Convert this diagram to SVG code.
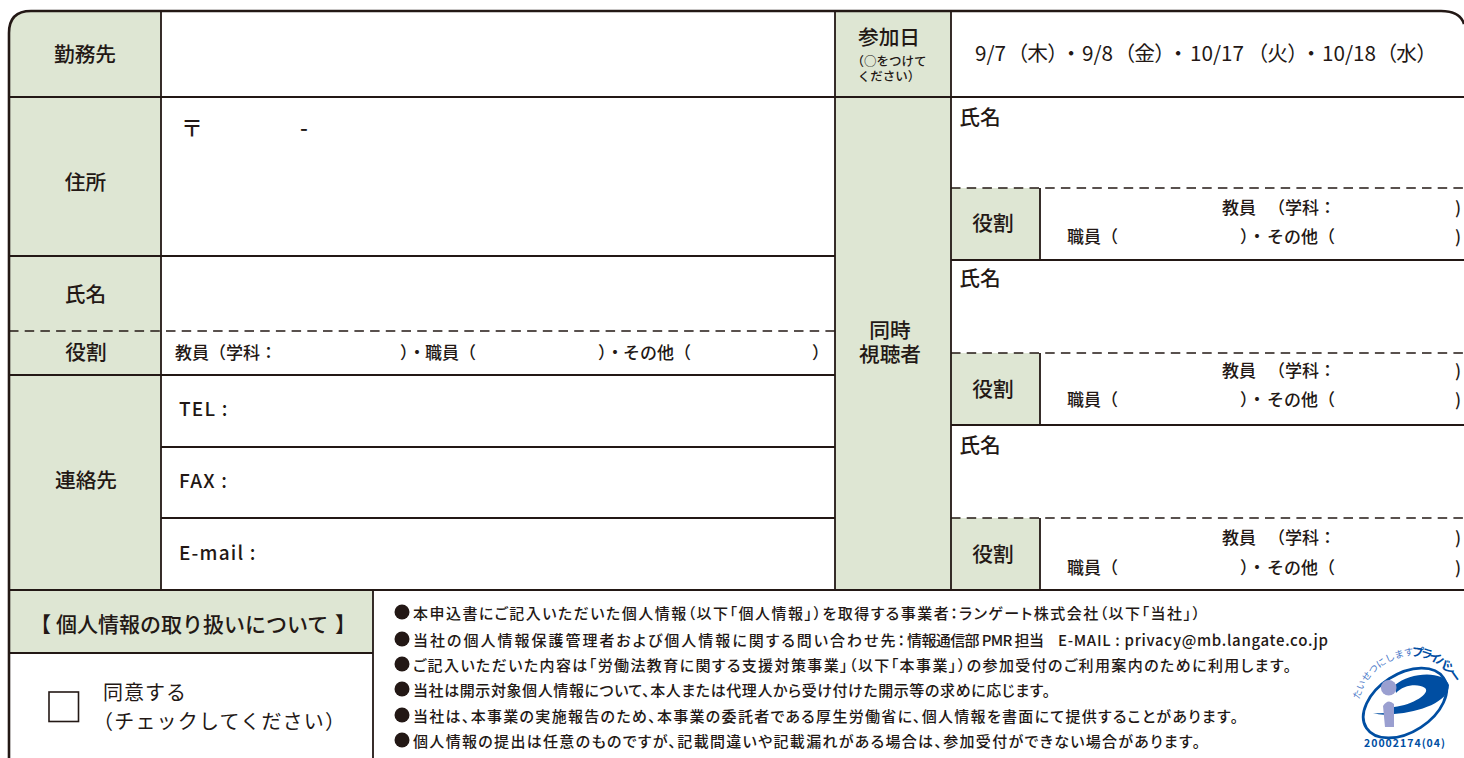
<svg xmlns="http://www.w3.org/2000/svg" width="1464" height="758" viewBox="0 0 1464 758">
<style>
text{font-family:"Noto Sans CJK JP","Noto Sans",sans-serif;fill:#231815;font-weight:500}
.ln{stroke:#231815;stroke-width:1.8;fill:none}
.ds{stroke:#231815;stroke-width:1.6;stroke-dasharray:9.5 6.2;fill:none}
.bg{fill:#dee6d3}
.h{font-size:20.7px;text-anchor:middle}
.r{font-size:17px}
.s{font-size:15px;font-feature-settings:"palt"}
.m{font-size:19px;letter-spacing:1.2px}
.b{fill:#231815}
</style>
<rect width="1464" height="758" fill="#fff"/>
<g id="fills">
<path class="bg" d="M9 590V32Q9 11 30 11H161V590Z"/>
<rect class="bg" x="835" y="11" width="116" height="579"/>
<rect class="bg" x="951" y="188" width="89" height="72"/>
<rect class="bg" x="951" y="353" width="89" height="72"/>
<rect class="bg" x="951" y="518" width="89" height="72"/>
<rect class="bg" x="9" y="590" width="364" height="63"/>
</g>
<g id="connectors">
<path class="ln" d="M161 11V590M835 11V590M951 11V590M373 590V758M1040 188V260M1040 353V425M1040 518V590"/>
<path class="ln" d="M9 97H1464M9 256H835M9 375H835M161 447H835M161 518H835M951 260H1464M951 425H1464M9 590H1464M9 653H373"/>
<path class="ds" d="M9 331H835M951 188H1464M951 353H1464M951 518H1464"/>
<path d="M9 758V33Q9 11 31 11H1441Q1460 11 1464 24" fill="none" stroke="#231815" stroke-width="2.6"/>
</g>
<g id="n-kinmu"><text class="h" x="85" y="62">勤務先</text></g>
<g id="n-jusho"><text class="h" x="85.500" y="190">住所</text><text x="181" y="136" font-size="22">〒</text><text x="300" y="136" font-size="22">-</text></g>
<g id="n-shimei"><text class="h" x="85.500" y="302">氏名</text></g>
<g id="n-yakuwari"><text class="h" x="86" y="360">役割</text>
<text class="r" y="359"><tspan x="175">教員（学科：</tspan><tspan x="400">）・</tspan><tspan x="425">職員（</tspan><tspan x="598">）・</tspan><tspan x="623">その他（</tspan><tspan x="812">）</tspan></text></g>
<g id="n-renraku"><text class="h" x="86" y="488">連絡先</text>
<text class="m" x="179" y="416">TEL :</text><text class="m" x="179" y="488">FAX :</text><text class="m" x="179" y="560">E-mail :</text></g>
<g id="n-sanka"><text class="h" x="889" y="45">参加日</text>
<text font-size="12.500" text-anchor="middle"><tspan x="889" y="66">（○をつけて</tspan><tspan x="889" y="81">ください）</tspan></text>
<text y="61" font-size="20.700" style="font-weight:400;font-feature-settings:'palt'"><tspan x="975">9/7</tspan><tspan x="1017">（木）</tspan><tspan x="1066">・</tspan><tspan x="1082">9/8</tspan><tspan x="1124">（金）</tspan><tspan x="1173">・</tspan><tspan x="1190">10/17</tspan><tspan x="1257">（火）</tspan><tspan x="1306">・</tspan><tspan x="1322">10/18</tspan><tspan x="1386">（水）</tspan></text></g>
<g id="n-doji"><text class="h"><tspan x="890" y="338">同時</tspan><tspan x="890" y="362">視聴者</tspan></text></g>
<g id="n-p1"><text class="h" x="980" y="125">氏名</text><text class="h" x="993" y="231">役割</text>
<text class="r" y="214"><tspan x="1222">教員</tspan><tspan x="1268">（学科：</tspan><tspan x="1455">)</tspan></text><text class="r" y="243"><tspan x="1067">職員（</tspan><tspan x="1240">）・</tspan><tspan x="1267">その他（</tspan><tspan x="1455">)</tspan></text></g>
<g id="n-p2"><text class="h" x="980" y="286">氏名</text><text class="h" x="993" y="397">役割</text>
<text class="r" y="377"><tspan x="1222">教員</tspan><tspan x="1268">（学科：</tspan><tspan x="1455">)</tspan></text><text class="r" y="406"><tspan x="1067">職員（</tspan><tspan x="1240">）・</tspan><tspan x="1267">その他（</tspan><tspan x="1455">)</tspan></text></g>
<g id="n-p3"><text class="h" x="980" y="453">氏名</text><text class="h" x="993" y="562">役割</text>
<text class="r" y="544"><tspan x="1222">教員</tspan><tspan x="1268">（学科：</tspan><tspan x="1455">)</tspan></text><text class="r" y="574"><tspan x="1067">職員（</tspan><tspan x="1240">）・</tspan><tspan x="1267">その他（</tspan><tspan x="1455">)</tspan></text></g>
<g id="n-kojin"><text y="632" font-size="21"><tspan x="30">【</tspan><tspan x="56">個人情報の取り扱いについて</tspan><tspan x="335">】</tspan></text></g>
<g id="n-doi"><rect x="49" y="692" width="29.500" height="29.500" fill="none" stroke="#231815" stroke-width="1.600"/>
<text x="103" y="700" font-size="20" letter-spacing="1" style="font-weight:400">同意する</text><text x="93" y="729" font-size="20" letter-spacing="1.200" style="font-weight:400">（チェックしてください）</text></g>
<g id="n-notes">
<circle class="b" cx="402" cy="612" r="7.500"/><circle class="b" cx="402" cy="639" r="7.500"/><circle class="b" cx="402" cy="664" r="7.500"/><circle class="b" cx="402" cy="689" r="7.500"/><circle class="b" cx="402" cy="715" r="7.500"/><circle class="b" cx="402" cy="740" r="7.500"/>
<text class="s" x="413" y="619" textLength="787">本申込書にご記入いただいた個人情報（以下「個人情報」）を取得する事業者：ランゲート株式会社（以下「当社」）</text>
<text class="s" x="413" y="646" textLength="492">当社の個人情報保護管理者および個人情報に関する問い合わせ先：</text>
<text class="s" x="907" y="646" textLength="137">情報通信部 PMR 担当</text>
<text class="s" x="1058" y="646" textLength="270">E-MAIL : privacy@mb.langate.co.jp</text>
<text class="s" x="413" y="671" textLength="878">ご記入いただいた内容は「労働法教育に関する支援対策事業」（以下「本事業」）の参加受付のご利用案内のために利用します。</text>
<text class="s" x="413" y="696" textLength="637">当社は開示対象個人情報について、本人または代理人から受け付けた開示等の求めに応じます。</text>
<text class="s" x="413" y="722" textLength="825">当社は、本事業の実施報告のため、本事業の委託者である厚生労働省に、個人情報を書面にて提供することがあります。</text>
<text class="s" x="413" y="747" textLength="787">個人情報の提出は任意のものですが、記載間違いや記載漏れがある場合は、参加受付ができない場合があります。</text>
</g>
<g id="n-logo">
<defs><path id="arc1" d="M1359 700Q1370 662 1411 655"/><path id="arc2" d="M1411 656Q1437 656 1453 681"/></defs>
<ellipse cx="1405" cy="703" rx="46" ry="29" fill="none" stroke="#004ea2" stroke-width="2.800" transform="rotate(-33 1405 703)"/>
<path d="M1395 685C1410 672 1444 670 1449 685C1449 702 1420 712 1394 714L1394 707C1413 705 1431 693 1425 688C1418 683 1403 685 1396 693Z" fill="#004ea2"/>
<path d="M1373 713Q1384 714 1392 712L1392 714Q1382 716 1373 713Z" fill="#004ea2"/>
<circle cx="1388.700" cy="687.700" r="7.800" fill="#9a9fd0"/>
<path d="M1383 706Q1388 698 1394 704V727H1385Z" fill="#9a9fd0"/>
<text font-size="9.500" style="fill:#4a78c8;font-weight:400"><textPath href="#arc1">たいせつにします</textPath></text>
<text font-size="12" style="fill:#004ea2;font-weight:700"><textPath href="#arc2" textLength="54">プライバシー</textPath></text>
<text x="1364" y="747" font-size="10.500" textLength="81" style="fill:#004ea2;font-weight:700">20002174(04)</text>
</g>
</svg>
